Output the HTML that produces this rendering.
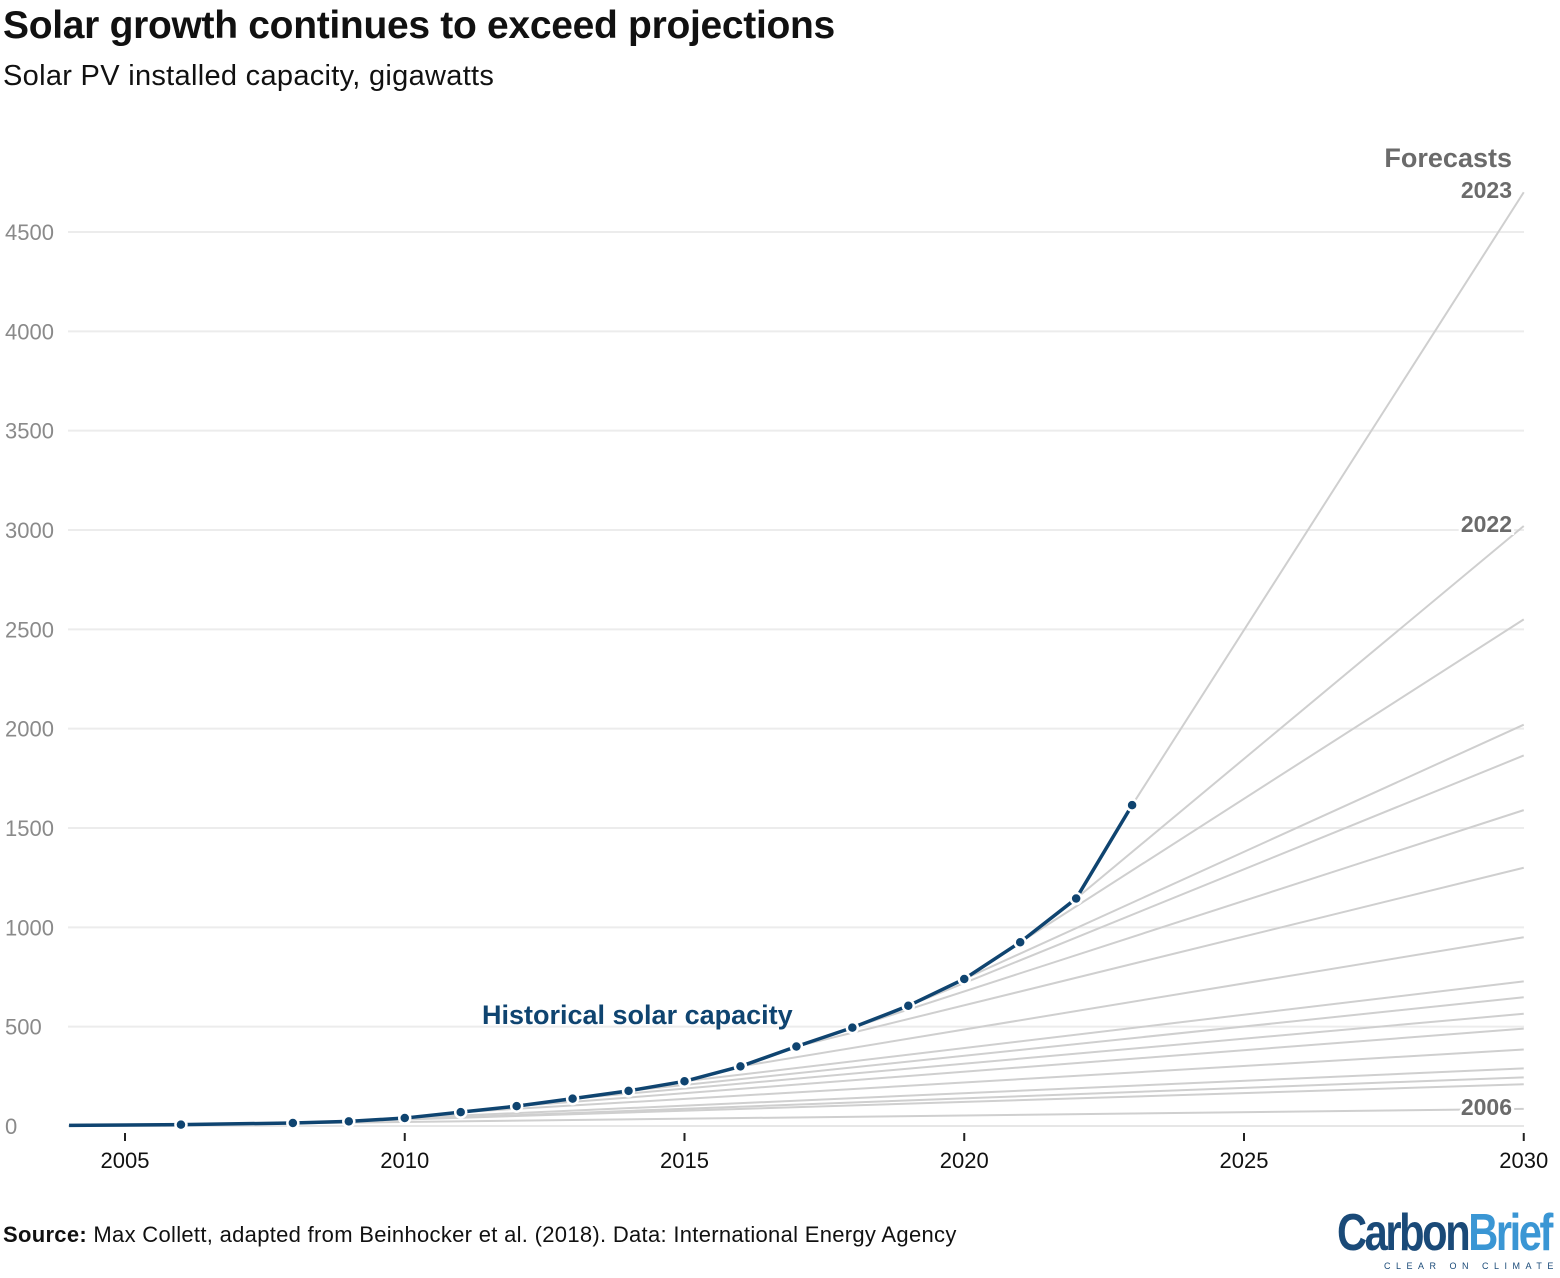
<!DOCTYPE html>
<html><head><meta charset="utf-8"><style>
body{margin:0;background:#fff;font-family:"Liberation Sans",sans-serif;}
#wrap{position:relative;width:1560px;height:1278px;overflow:hidden}
h1{position:absolute;left:3px;top:4px;margin:0;font-size:39px;font-weight:bold;color:#111;letter-spacing:-0.3px}
.sub{position:absolute;left:3px;top:60px;font-size:29px;color:#111;letter-spacing:0.3px}
.src{position:absolute;left:3px;top:1222px;font-size:22px;color:#111;letter-spacing:0.3px;white-space:nowrap}
.logo{position:absolute;left:1337px;top:1203px;font-weight:bold;font-size:52px;letter-spacing:-3px;transform:scaleX(0.8);transform-origin:left;white-space:nowrap}
</style></head><body><div id="wrap">
<h1>Solar growth continues to exceed projections</h1>
<div class="sub">Solar PV installed capacity, gigawatts</div>
<svg id="chart" width="1560" height="1278" style="position:absolute;left:0;top:0"></svg>
<div class="src"><b>Source:</b> Max Collett, adapted from Beinhocker et al. (2018). Data: International Energy Agency</div>
<div class="logo"><span style="color:#1a4a78">Carbon</span><span style="color:#3a96d4">Brief</span></div>
<div style="position:absolute;left:1384px;top:1261px;font-size:9px;letter-spacing:5.5px;color:#1a4a78;white-space:nowrap">CLEAR ON CLIMATE</div>
<script>
const histYears=[2004,2006,2008,2009,2010,2011,2012,2013,2014,2015,2016,2017,2018,2019,2020,2021,2022,2023];
const histValues=[3,7,15,23,40,70,100,138,177,225,300,400,495,605,740,925,1145,1615];
const dotYears=[2006,2008,2009,2010,2011,2012,2013,2014,2015,2016,2017,2018,2019,2020,2021,2022,2023];
const forecastYears=[2006,2008,2009,2010,2011,2012,2013,2014,2015,2016,2017,2018,2019,2020,2021,2022,2023];
const forecast2030=[86,210,245,290,385,490,565,648,728,950,1300,1590,1865,2020,2550,3020,4700];
const yTicks=[0,500,1000,1500,2000,2500,3000,3500,4000,4500];
const xTicks=[2005,2010,2015,2020,2025,2030];
const svg=document.getElementById('chart');const NS='http://www.w3.org/2000/svg';
const X=y=>125+(y-2005)*55.95;const Y=v=>1126-v*894/4500;
function mk(t,a,p){const e=document.createElementNS(NS,t);for(const k in a)e.setAttribute(k,a[k]);(p||svg).appendChild(e);return e;}
yTicks.forEach(v=>{
 const l=mk('line',{x1:68,x2:1524,y1:Y(v),y2:Y(v),stroke:v===0?'#e6e6e6':'#ececec','stroke-width':2});
 
 
 const t=mk('text',{x:5,y:Y(v)+8,'font-size':22,fill:'#8a8a8a'});t.textContent=v;
 
 
});
xTicks.forEach(yr=>{
 const l=mk('line',{x1:X(yr),x2:X(yr),y1:1133,y2:1141,stroke:'#222','stroke-width':2});
 
 
 const t=mk('text',{x:X(yr),y:1168,'font-size':22,fill:'#111','text-anchor':'middle'});t.textContent=yr;
 
 
});
forecastYears.forEach((yr,i)=>{
 const hv=histValues[histYears.indexOf(yr)];
 const l=mk('line',{x1:X(yr),y1:Y(hv),x2:X(2030),y2:Y(forecast2030[i]),stroke:'#cfcfcf','stroke-width':2});
 
 
});
const path=mk('polyline',{points:histYears.map((y,i)=>X(y)+','+Y(histValues[i])).join(' '),fill:'none',stroke:'#0f4470','stroke-width':3.5});


dotYears.forEach(yr=>{
 const c=mk('circle',{cx:X(yr),cy:Y(histValues[histYears.indexOf(yr)]),r:5.5,fill:'#0f4470',stroke:'#fff','stroke-width':2.5});
 
 
});
function lab(txt,x,y,size,col,anchor,name){const t=mk('text',{x:x,y:y,'font-size':size,'font-weight':'bold',fill:col,'text-anchor':anchor});t.textContent=txt;
 
 
 return t;}
lab('Forecasts',1512,167,27,'#6b6b6b','end','forecasts-label');
const a=lab('2023',1512,198,23,'#6b6b6b','end','label-2023');a.setAttribute('stroke','#fff');a.setAttribute('stroke-width','6');a.setAttribute('paint-order','stroke');
const b=lab('2022',1512,532,23,'#6b6b6b','end','label-2022');b.setAttribute('stroke','#fff');b.setAttribute('stroke-width','6');b.setAttribute('paint-order','stroke');
const c=lab('2006',1512,1115,23,'#6b6b6b','end','label-2006');c.setAttribute('stroke','#fff');c.setAttribute('stroke-width','6');c.setAttribute('paint-order','stroke');
lab('Historical solar capacity',482,1024,27,'#0f4470','start','historical-label');
</script></div></body></html>
